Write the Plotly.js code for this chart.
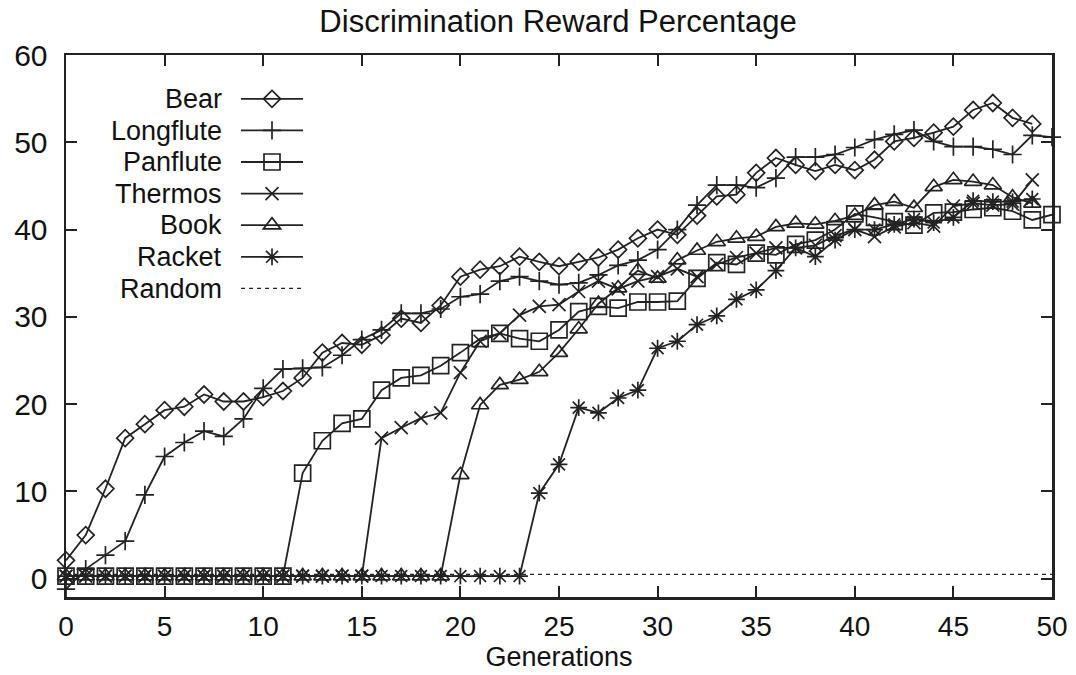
<!DOCTYPE html>
<html>
<head>
<meta charset="utf-8">
<script src="https://cdn.plot.ly/plotly-3.0.1.min.js"></script>
<style>
  html, body { margin: 0; padding: 0; background: #ffffff; }
  #chart { width: 1076px; height: 675px; }
</style>
</head>
<body>
<div id="chart"></div>
<script>
// Generations (x values)
const generations = [0,1,2,3,4,5,6,7,8,9,10,11,12,13,14,15,16,17,18,19,20,21,22,23,24,25,26,27,28,29,30,31,32,33,34,35,36,37,38,39,40,41,42,43,44,45,46,47,48,49,50];

// Series values (discrimination reward percentage)
const bear = [2.1,5.0,10.3,16.1,17.7,19.3,19.7,21.1,20.3,20.3,20.8,21.5,23.0,25.9,27.0,26.8,27.9,29.8,29.3,31.3,34.6,35.4,35.8,36.9,36.3,35.8,36.3,36.8,37.7,39.0,40.0,39.4,41.6,43.8,44.0,46.5,48.2,47.4,46.7,47.4,46.8,48.0,50.1,50.5,51.1,51.8,53.7,54.5,52.8,52.1];
const longflute = [-1.2,1.1,2.7,4.3,9.6,14.0,15.6,16.9,16.3,18.3,21.8,24.0,24.1,24.2,25.6,27.4,28.5,30.4,30.4,30.9,32.3,32.6,34.1,34.6,34.1,33.7,33.9,34.8,35.9,36.5,37.7,40.0,42.8,45.1,45.1,44.8,45.9,48.3,48.3,48.6,49.4,50.3,50.9,51.4,50.1,49.5,49.5,49.2,48.6,50.8,50.6];
const panflute = [0.3,0.3,0.3,0.3,0.3,0.3,0.3,0.3,0.3,0.3,0.3,0.3,12.1,15.8,17.8,18.3,21.6,23.0,23.3,24.4,25.9,27.5,28.1,27.5,27.2,28.5,30.6,31.2,31.0,31.7,31.7,31.8,34.4,36.2,36.0,37.3,37.1,38.3,38.8,40.0,41.8,41.4,40.9,40.5,41.9,42.0,42.3,42.5,42.1,41.1,41.7];
const thermos = [0.3,0.3,0.3,0.3,0.3,0.3,0.3,0.3,0.3,0.3,0.3,0.3,0.3,0.3,0.3,0.3,16.1,17.3,18.4,19.0,23.6,27.2,28.1,30.2,31.2,31.4,32.9,34.1,33.2,34.1,34.6,35.5,34.6,36.0,36.8,37.3,37.9,37.9,38.2,39.3,40.0,39.2,40.3,40.8,40.4,42.7,43.0,42.8,42.9,45.7];
const book = [0.3,0.3,0.3,0.3,0.3,0.3,0.3,0.3,0.3,0.3,0.3,0.3,0.3,0.3,0.3,0.3,0.3,0.3,0.3,0.3,11.9,19.9,22.2,22.8,23.7,25.9,28.6,31.5,33.3,35.3,34.4,36.5,37.6,38.6,39.0,39.2,40.3,40.7,40.6,41.0,41.6,42.8,43.2,42.5,44.9,45.7,45.5,45.1,43.7,43.0];
const racket = [0.3,0.3,0.3,0.3,0.3,0.3,0.3,0.3,0.3,0.3,0.3,0.3,0.3,0.3,0.3,0.3,0.3,0.3,0.3,0.3,0.3,0.3,0.3,0.3,9.8,13.1,19.6,19.0,20.7,21.6,26.4,27.2,29.1,30.1,32.0,33.1,35.3,37.9,36.9,38.8,40.0,40.0,40.6,41.2,40.8,41.4,43.3,43.2,43.2,43.5];
const randomX = [0, 50];
const randomY = [0.5, 0.5];

const seriesNames = ['Bear','Longflute','Panflute','Thermos','Book','Racket','Random'];
const seriesValues = [bear, longflute, panflute, thermos, book, racket];
const symbols = ['diamond-open','cross-thin-open','square-open','x-thin-open','triangle-up-open','asterisk-open'];
const sizes = [13, 13, 16, 13, 15, 14];

const ink = '#222222';
const FONT = 'Liberation Sans, Arial, sans-serif';
const W = 1076, H = 675;
const M = { l: 66, r: 24, t: 55, b: 78 };
const plotW = W - M.l - M.r, plotH = H - M.t - M.b;

// legend layout (gnuplot style: right-aligned label, sample on the right)
const legendTextRightPx = 224;
const legendSampleLeftPx = 236;
const legendFirstRowPx = 99;
const legendRowPx = 31.6;

const traces = seriesValues.map((vals, i) => ({
  type: 'scatter',
  mode: 'lines+markers',
  name: '',
  legendgroup: seriesNames[i],
  x: generations.slice(0, vals.length),
  y: vals,
  line: { color: ink, width: 1.8 },
  marker: { symbol: symbols[i], size: sizes[i], color: ink, line: { color: ink, width: 1.7 } },
  cliponaxis: false
}));
traces.push({
  type: 'scatter',
  mode: 'lines',
  name: '',
  legendgroup: seriesNames[6],
  x: randomX,
  y: randomY,
  line: { color: ink, width: 1.3, dash: '4px,4px' }
});

const annotations = seriesNames.map((nm, i) => ({
  xref: 'paper', yref: 'paper',
  x: (legendTextRightPx - M.l) / plotW,
  y: 1 - (legendFirstRowPx + i * legendRowPx - M.t) / plotH,
  xanchor: 'right', yanchor: 'middle',
  text: nm, showarrow: false,
  font: { family: FONT, size: 27, color: '#111' }
}));

const layout = {
  width: W,
  height: H,
  paper_bgcolor: '#ffffff',
  plot_bgcolor: '#ffffff',
  margin: M,
  font: { family: FONT, color: '#111', size: 28 },
  title: {
    text: 'Discrimination Reward Percentage',
    font: { family: FONT, size: 31, color: '#111' },
    x: 558 / W, xanchor: 'center',
    y: 1 - 21 / H, yanchor: 'middle', yref: 'container'
  },
  xaxis: {
    range: [0, 50],
    tickvals: [0,5,10,15,20,25,30,35,40,45,50],
    ticks: 'inside', ticklen: 11, tickwidth: 2, tickcolor: ink,
    mirror: 'ticks', showline: true, linecolor: ink, linewidth: 2.5,
    showgrid: false, zeroline: false,
    tickfont: { family: FONT, size: 28, color: '#111' },
    ticklabelstandoff: 3,
    title: { text: 'Generations', font: { family: FONT, size: 27, color: '#111' }, standoff: 3 }
  },
  yaxis: {
    range: [-2.1, 60],
    tickvals: [0,10,20,30,40,50,60],
    ticks: 'inside', ticklen: 11, tickwidth: 2, tickcolor: ink,
    mirror: 'ticks', showline: true, linecolor: ink, linewidth: 2.5,
    showgrid: false, zeroline: false,
    tickfont: { family: FONT, size: 30, color: '#111' },
    ticklabelstandoff: 10
  },
  legend: {
    x: (legendSampleLeftPx - M.l) / plotW, xanchor: 'left',
    y: 1 - (legendFirstRowPx - 21 - M.t) / plotH, yanchor: 'top',
    bgcolor: 'rgba(255,255,255,0)',
    font: { family: FONT, size: 22, color: '#111' },
    tracegroupgap: 0,
    itemwidth: 62
  },
  annotations: annotations,
  showlegend: true
};

Plotly.newPlot('chart', traces, layout, { displayModeBar: false, staticPlot: true });
</script>
</body>
</html>
